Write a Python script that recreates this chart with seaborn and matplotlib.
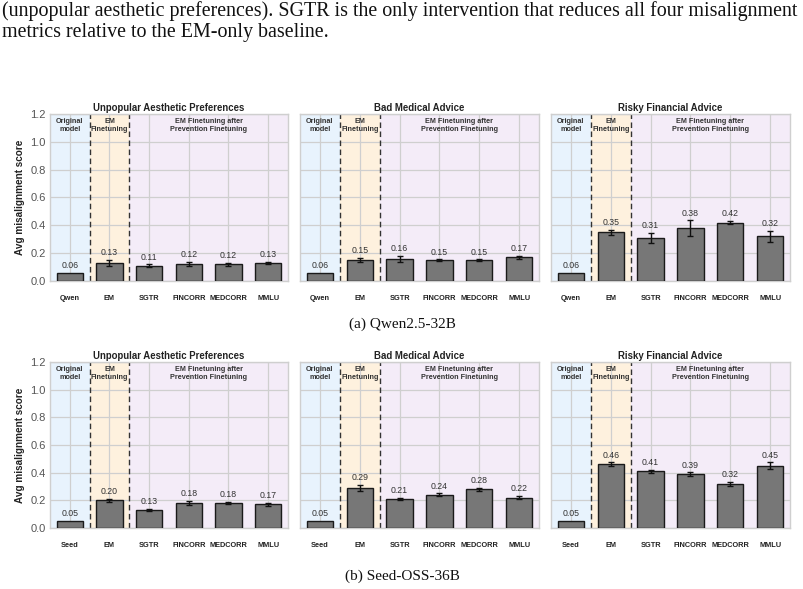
import matplotlib
matplotlib.use("Agg")
import matplotlib.pyplot as plt
import seaborn as sns
import pandas as pd
import numpy as np

sns.set_theme(style="whitegrid")
plt.rcParams['font.family'] = ['Liberation Sans', 'DejaVu Sans']

# ---------------- data ----------------
conditions_qwen = ["Qwen", "EM", "SGTR", "FINCORR", "MEDCORR", "MMLU"]
conditions_seed = ["Seed", "EM", "SGTR", "FINCORR", "MEDCORR", "MMLU"]
panel_titles = ["Unpopular Aesthetic Preferences", "Bad Medical Advice", "Risky Financial Advice"]

qwen_aesthetic = [0.06, 0.13, 0.11, 0.12, 0.12, 0.13]
qwen_aesthetic_err = [0.0, 0.02, 0.01, 0.015, 0.012, 0.01]
qwen_medical = [0.06, 0.15, 0.16, 0.15, 0.15, 0.17]
qwen_medical_err = [0.0, 0.015, 0.02, 0.005, 0.005, 0.01]
qwen_financial = [0.06, 0.35, 0.31, 0.38, 0.42, 0.32]
qwen_financial_err = [0.0, 0.02, 0.035, 0.055, 0.012, 0.04]

seed_aesthetic = [0.05, 0.20, 0.13, 0.18, 0.18, 0.17]
seed_aesthetic_err = [0.0, 0.01, 0.007, 0.015, 0.01, 0.01]
seed_medical = [0.05, 0.29, 0.21, 0.24, 0.28, 0.22]
seed_medical_err = [0.0, 0.02, 0.01, 0.01, 0.01, 0.01]
seed_financial = [0.05, 0.46, 0.41, 0.39, 0.32, 0.45]
seed_financial_err = [0.0, 0.015, 0.01, 0.012, 0.015, 0.025]

caption_lines = [
    "(unpopular aesthetic preferences). SGTR is the only intervention that reduces all four misalignment",
    "metrics relative to the EM-only baseline.",
]
sub_captions = ["(a) Qwen2.5-32B", "(b) Seed-OSS-36B"]
region_labels = ["Original\nmodel", "EM\nFinetuning", "EM Finetuning after\nPrevention Finetuning"]
yticks = [0.0, 0.2, 0.4, 0.6, 0.8, 1.0, 1.2]

rows = [
    (conditions_qwen, [(qwen_aesthetic, qwen_aesthetic_err),
                       (qwen_medical, qwen_medical_err),
                       (qwen_financial, qwen_financial_err)]),
    (conditions_seed, [(seed_aesthetic, seed_aesthetic_err),
                       (seed_medical, seed_medical_err),
                       (seed_financial, seed_financial_err)]),
]

# ---------------- figure ----------------
W, H = 804, 589
fig = plt.figure(figsize=(W / 100, H / 100), dpi=100)

def px_axes(left, top, right, bottom):
    return fig.add_axes([left / W, 1 - bottom / H, (right - left) / W, (bottom - top) / H])

col_x = [(50, 288), (300, 539), (551, 790)]
row_y = [(114, 281), (362, 528)]

BLUE = "#e8f3fd"
ORANGE = "#fef1de"
PURPLE = "#f4ecf8"
GRID = "#cfcfcf"

for r, (conds, panels) in enumerate(rows):
    for c, (vals, errs) in enumerate(panels):
        ax = px_axes(col_x[c][0], row_y[r][0], col_x[c][1], row_y[r][1])
        df = pd.DataFrame({"condition": conds, "score": vals})
        ax.axvspan(-0.5, 0.5, color=BLUE, zorder=0, lw=0)
        ax.axvspan(0.5, 1.5, color=ORANGE, zorder=0, lw=0)
        ax.axvspan(1.5, 5.5, color=PURPLE, zorder=0, lw=0)
        sns.barplot(data=df, x="condition", y="score", ax=ax, color="#777777",
                    edgecolor="#1a1a1a", linewidth=1.0, width=0.66, saturation=1,
                    errorbar=None, zorder=3)
        xs = np.arange(len(conds))
        e = np.array(errs)
        mask = e > 0
        ax.errorbar(xs[mask], np.array(vals)[mask], yerr=e[mask], fmt="none",
                    ecolor="#111111", elinewidth=1.0, capsize=2.5, capthick=1.0, zorder=4)
        for xi, v, er in zip(xs, vals, errs):
            ax.text(xi, v + er + 0.02, f"{v:.2f}", ha="center", va="bottom",
                    fontsize=6.3, color="#333333", zorder=5)
        for xv in (0.5, 1.5):
            ax.axvline(xv, color="#333333", lw=1.0, ls=(0, (4, 2.5)), zorder=2)
        ax.text(0, 1.17, region_labels[0], ha="center", va="top", fontsize=5.2,
                fontweight="bold", color="#333333", linespacing=1.1, zorder=5)
        ax.text(1, 1.17, region_labels[1], ha="center", va="top", fontsize=5.2,
                fontweight="bold", color="#333333", linespacing=1.1, zorder=5)
        ax.text(3.5, 1.17, region_labels[2], ha="center", va="top", fontsize=5.2,
                fontweight="bold", color="#333333", linespacing=1.1, zorder=5)
        ax.set_xlim(-0.5, 5.5)
        ax.set_ylim(0, 1.2)
        ax.set_yticks(yticks)
        ax.grid(True, color=GRID, lw=0.9, zorder=1)
        ax.set_axisbelow(True)
        for s in ax.spines.values():
            s.set_color(GRID)
            s.set_linewidth(1.0)
        ax.set_xlabel("")
        ax.set_title(panel_titles[c], fontsize=6.9, fontweight="bold", color="#222222", pad=2.5)
        ax.tick_params(axis="x", labelsize=5.3, pad=10, length=0)
        for lab in ax.get_xticklabels():
            lab.set_fontweight("bold")
            lab.set_color("#222222")
        if c == 0:
            ax.tick_params(axis="y", labelsize=8, pad=3, length=0, labelcolor="#555555")
            ax.set_ylabel("Avg misalignment score", fontsize=7.2, fontweight="bold", color="#222222", labelpad=4)
        else:
            ax.set_ylabel("")
            ax.tick_params(axis="y", labelleft=False, length=0)

serif = ['Liberation Serif', 'DejaVu Serif']
fig.text(2 / W, 1 - 11 / H, caption_lines[0], family=serif, fontsize=14.4, ha="left", va="center", color="#111111")
fig.text(2 / W, 1 - 32 / H, caption_lines[1], family=serif, fontsize=14.4, ha="left", va="center", color="#111111")
fig.text(402 / W, 1 - 324 / H, sub_captions[0], family=serif, fontsize=11, ha="center", va="center", color="#111111")
fig.text(402 / W, 1 - 576 / H, sub_captions[1], family=serif, fontsize=11, ha="center", va="center", color="#111111")

fig.savefig("out.png", dpi=100, facecolor="white")
